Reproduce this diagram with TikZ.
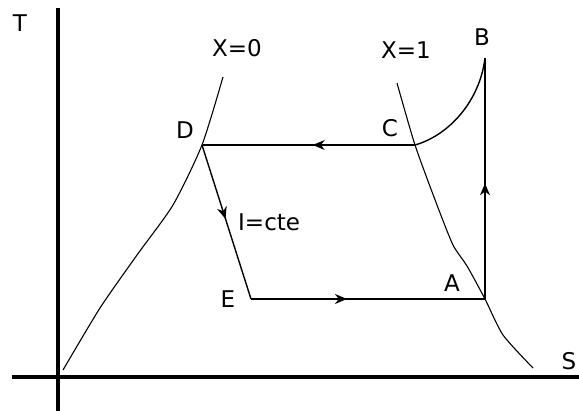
\documentclass[tikz,border=0pt]{standalone}
\usepackage{fontspec}
\setmainfont{DejaVu Sans}
\usetikzlibrary{arrows.meta,decorations.markings}

\begin{document}
\begin{tikzpicture}[x=1pt, y=-1pt,
  axis/.style={line width=3.4pt},
  sat/.style={line width=1.1pt},
  proc/.style={line width=1.4pt},
  lbl/.style={font=\fontsize{23}{26}\selectfont, inner sep=0pt},
  midarrow/.style={postaction={decorate},
    decoration={markings, mark=at position #1 with {\arrow{Stealth[length=12pt,width=10pt]}}}}]
  \useasboundingbox (0,0) rectangle (579,411);
  % axes
  \coordinate (ybot) at (58,411);
  \coordinate (ytop) at (58,8);
  \coordinate (xleft) at (12,377);
  \coordinate (xright) at (579,377);
  \draw[axis] (ybot) -- (ytop);
  \draw[axis] (xleft) -- (xright);
  \node[lbl] (tlab) at (20,23) {T};
  \node[lbl] (slab) at (569,361) {S};
  % cycle points
  \coordinate (A) at (485,299);
  \coordinate (B) at (485,58);
  \coordinate (C) at (415,145);
  \coordinate (D) at (202,145);
  \coordinate (E) at (251,299);
  % saturation curves
  \draw[sat] plot[smooth, tension=0.4] coordinates {(63,370) (100,308) (137,255) (173,205) (D) (223,77)};
  \draw[sat] plot[smooth, tension=0.4] coordinates {(397,83) (C) (437,205) (453,245) (467,266) (A) (503,335) (533,368)};
  \node[lbl] (x0lab) at (237,48) {X=0};
  \node[lbl] (x1lab) at (406,50) {X=1};
  % cycle
  \draw[proc] (C) .. controls (450,135) and (480,100) .. (B);
  \draw[proc, midarrow=0.48] (A) -- (B);
  \draw[proc, midarrow=0.48] (C) -- (D);
  \draw[proc, midarrow=0.48] (D) -- (E);
  \draw[proc, midarrow=0.41] (E) -- (A);
  % point labels
  \node[lbl] (alab) at (452,283) {A};
  \node[lbl] (blab) at (482,37) {B};
  \node[lbl] (clab) at (390,128) {C};
  \node[lbl] (dlab) at (185,130) {D};
  \node[lbl] (elab) at (228,299) {E};
  \node[lbl, anchor=west] (hlab) at (238,222) {I=cte};
\end{tikzpicture}
\end{document}
